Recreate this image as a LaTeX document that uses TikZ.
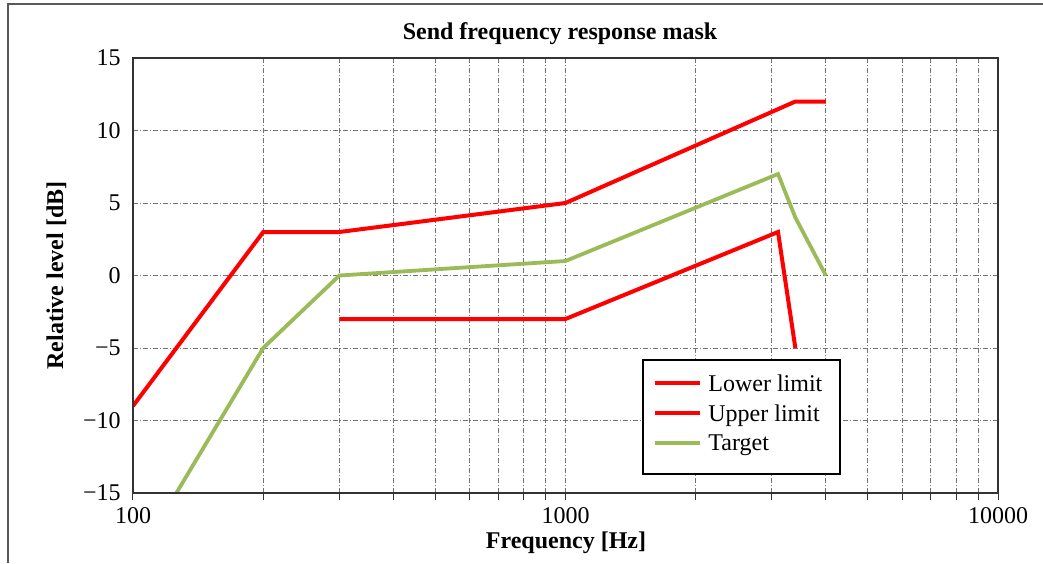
\documentclass[tikz,border=0pt]{standalone}
\usepackage{fontspec}
\setmainfont{Liberation Serif}
\definecolor{maskred}{RGB}{255,0,0}
\definecolor{targetgreen}{RGB}{155,187,89}
\definecolor{gridgray}{gray}{0.45}
\begin{document}
\begin{tikzpicture}[x=0.5pt,y=-0.5pt,
  declare function={lf(\f)=log10(\f)-2;},
  txt/.style={font=\fontsize{12}{14}\selectfont, inner sep=0pt},
  boldtxt/.style={txt, font=\fontsize{12}{14}\selectfont\bfseries},
  gridline/.style={gridgray, line width=0.5pt, dash pattern=on 2.5pt off 1pt on 0.5pt off 1pt},
  curve/.style={line width=2pt, line join=miter},
  upperc/.style={curve, maskred},
  lowerc/.style={curve, maskred},
  targetc/.style={curve, targetgreen, line width=1.9pt},
  frameline/.style={gray!70!black, line width=0.8pt}]
\useasboundingbox (0,0) rectangle (1043,563);
\fill[white] (0,0) rectangle (1043,563);

% outer frame (top and left edges)
\draw[frameline] (8,563) -- (8,4) -- (1043,4);

% title and axis labels
\node[boldtxt, anchor=base] (title) at (560,39) {Send frequency response mask};
\node[boldtxt, anchor=base] (xlabel) at (566,548) {Frequency [Hz]};
\node[boldtxt, anchor=base, rotate=90] (ylabel) at (63,275.5) {Relative level [dB]};

% plot area: x in decades above 100 Hz, y in dB
\begin{scope}[xshift=66.5pt, yshift=-137.75pt, x=216.25pt, y=7.25pt]
  % grid
  \foreach \d in {-10,-5,0,5,10}
    \draw[gridline] (0,\d) -- (2,\d);
  \foreach \f in {200,300,400,500,600,700,800,900,1000,2000,3000,4000,5000,6000,7000,8000,9000}
    \draw[gridline] ({lf(\f)},-15) -- ({lf(\f)},15);
  % ticks below the frequency axis
  \foreach \f in {100,200,300,400,500,600,700,800,900,1000,2000,3000,4000,5000,6000,7000,8000,9000,10000}
    \draw[gray!40!black, line width=0.5pt] ({lf(\f)},-15) -- ++(0pt,-3.5pt);

  % curves
  \begin{scope}
    \clip (0,-15) rectangle (2,15);
    \draw[targetc] ({lf(100)},-20) -- ({lf(200)},-5) -- ({lf(300)},0) -- ({lf(1000)},1)
      -- ({lf(3100)},7) -- ({lf(3400)},4) -- ({lf(4000)},0);
    \draw[upperc] ({lf(100)},-9) -- ({lf(200)},3) -- ({lf(300)},3) -- ({lf(1000)},5)
      -- ({lf(3400)},12) -- ({lf(4000)},12);
    \draw[lowerc] ({lf(300)},-3) -- ({lf(1000)},-3) -- ({lf(3100)},3) -- ({lf(3400)},-5);
  \end{scope}

  % axis box
  \draw[gray!40!black, line width=0.75pt] (0,-15) rectangle (2,15);

  % y tick labels
  \foreach \d/\t in {15/15,10/10,5/5,0/0,-5/−5,-10/−10,-15/−15}
    \node[txt, anchor=east] (yt\d) at ([xshift=-6pt]0,\d) {\t};
  % x tick labels
  \node[txt] (xt100) at ([yshift=-11.5pt]0,-15) {100};
  \node[txt] (xt1000) at ([yshift=-11.5pt]1,-15) {1000};
  \node[txt] (xt10000) at ([yshift=-11.5pt]2,-15) {10000};
\end{scope}

% legend
\draw[black, line width=0.6pt, fill=white] (643,360) rectangle (840,474);
\coordinate (l1a) at (655,383); \coordinate (l1b) at (700,383);
\coordinate (l2a) at (655,413); \coordinate (l2b) at (700,413);
\coordinate (l3a) at (655,443); \coordinate (l3b) at (700,443);
\draw[lowerc] (l1a) -- (l1b);
\draw[upperc] (l2a) -- (l2b);
\draw[targetc] (l3a) -- (l3b);
\node[txt, anchor=base west] (leg1) at (708,391.5) {Lower limit};
\node[txt, anchor=base west] (leg2) at (708,421) {Upper limit};
\node[txt, anchor=base west] (leg3) at (708,450.5) {Target};
\end{tikzpicture}
\end{document}
